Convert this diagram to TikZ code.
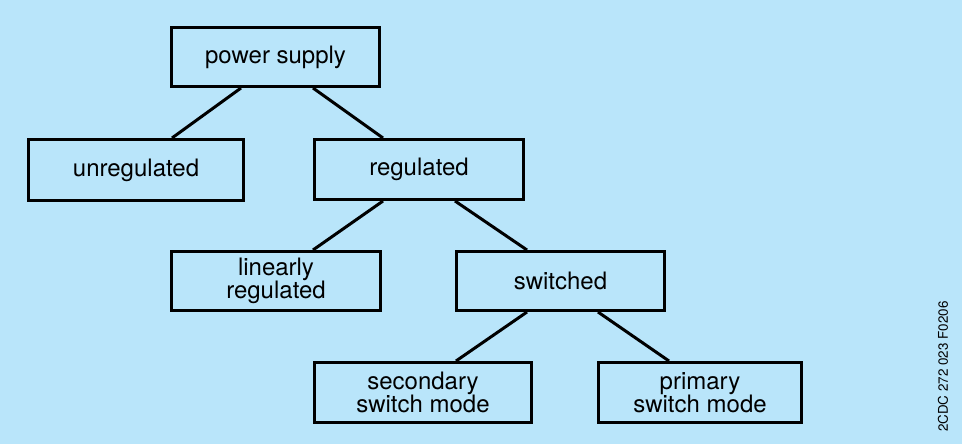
\documentclass[tikz,border=0pt]{standalone}
\usepackage{fontspec}
\setmainfont{TeX Gyre Heros}
\definecolor{bg}{RGB}{185,229,250}
\begin{document}
\begin{tikzpicture}[x=1pt,y=-1pt,
  box/.style={draw=black,line width=3pt,rectangle,inner sep=0pt,align=center,
    font=\fontsize{24}{23.5}\selectfont,anchor=north west},
  conn/.style={draw=black,line width=3pt}]
\fill[bg] (0,0) rectangle (962,444);
\useasboundingbox (0,0) rectangle (962,444);
\newcommand{\bx}[6]{\node[box,minimum width=#4-#2,minimum height=#5-#3] (#1) at (#2,#3) {#6};}
\bx{ps}{170}{26}{378}{85}{power supply}
\bx{un}{27}{138}{242}{199}{unregulated}
\bx{re}{313}{138}{522}{198}{regulated}
\bx{li}{170}{250}{379}{309}{linearly\\regulated}
\bx{sw}{455}{250}{663}{309}{switched}
\bx{se}{313}{361}{530}{421}{secondary\\switch mode}
\bx{pr}{597}{361}{800}{421}{primary\\switch mode}
\draw[conn] (ps.south west) ++(71,0) -- ([xshift=145pt]un.north west);
\draw[conn] (ps.south west) ++(143,0) -- ([xshift=70pt]re.north west);
\draw[conn] (re.south west) ++(70,0) -- ([xshift=143pt]li.north west);
\draw[conn] (re.south west) ++(142,0) -- ([xshift=72pt]sw.north west);
\draw[conn] (sw.south west) ++(72,0) -- ([xshift=143pt]se.north west);
\draw[conn] (sw.south west) ++(143,0) -- ([xshift=72pt]pr.north west);
\node[rotate=90,anchor=west,inner sep=0pt,font=\fontsize{13.4}{14}\selectfont] (id) at (943,432) {2CDC 272 023 F0206};
\end{tikzpicture}
\end{document}
